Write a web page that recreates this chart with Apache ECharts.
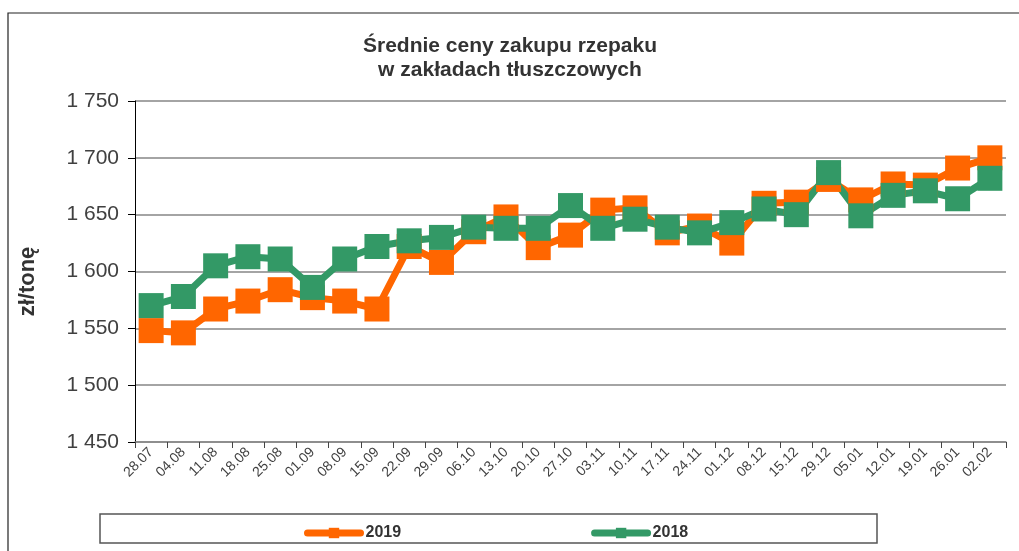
<!DOCTYPE html>
<html>
<head>
<meta charset="utf-8">
<script src="https://cdn.jsdelivr.net/npm/echarts@6/dist/echarts.min.js"></script>
<style>
  html, body {margin: 0; padding: 0; background: #fff;}
  #chart {width: 1019px; height: 551px;}
</style>
</head>
<body>
<div id="chart"></div>
<script>
  const weeks = ['28.07', '04.08', '11.08', '18.08', '25.08', '01.09', '08.09', '15.09', '22.09', '29.09',
    '06.10', '13.10', '20.10', '27.10', '03.11', '10.11', '17.11', '24.11', '01.12', '08.12',
    '15.12', '29.12', '05.01', '12.01', '19.01', '26.01', '02.02']
  const prices2019 = [1548, 1546, 1567, 1574, 1584, 1577, 1574, 1567, 1622, 1608,
    1635, 1648, 1621, 1632, 1654, 1656, 1634, 1640, 1625, 1660,
    1661, 1681, 1663, 1677, 1676, 1691, 1700]
  const prices2018 = [1570, 1578, 1605, 1613, 1611, 1586, 1611, 1622, 1627, 1630,
    1639, 1638, 1638, 1658, 1638, 1646, 1639, 1634, 1643, 1655,
    1650, 1687, 1649, 1667, 1671, 1664, 1682]

  const font = 'Liberation Sans, Arial, sans-serif'
  const chart = echarts.init(document.getElementById('chart'))

  // wartości z odstępem tysięcy: 1 750
  const fmt = v => String(v).replace(/\B(?=(\d{3})+(?!\d))/g, ' ')

  const line = (name, data, color) => ({
    name, type: 'line', data,
    symbol: 'rect', symbolSize: 25,
    lineStyle: {color, width: 7},
    itemStyle: {color},
    emphasis: {disabled: true},
    animation: false,
  })

  chart.setOption({
    animation: false,
    textStyle: {fontFamily: font},
    title: {
      text: 'Średnie ceny zakupu rzepaku\nw zakładach tłuszczowych',
      left: 505, top: 29, textAlign: 'center',
      textStyle: {fontFamily: font, fontSize: 21, fontWeight: 'bold', color: '#333', lineHeight: 24},
    },
    graphic: [
      {type: 'rect', shape: {x: 8, y: 13, width: 1100, height: 700}, style: {fill: 'none', stroke: '#222', lineWidth: 1.2}, silent: true},
      {type: 'rect', shape: {x: 100, y: 514, width: 777, height: 29}, style: {fill: '#fff', stroke: '#555', lineWidth: 1.5}, silent: true, z: -1},
    ],
    legend: {
      left: 299, top: 520, itemWidth: 53, itemHeight: 13, itemGap: 190,
      lineStyle: {width: 7, cap: 'round'},
      textStyle: {fontFamily: font, fontSize: 16, fontWeight: 'bold', color: '#333'},
      data: ['2019', '2018'],
    },
    grid: {left: 135, right: 13, top: 101, bottom: 109},
    xAxis: {
      type: 'category', data: weeks, boundaryGap: true,
      axisLine: {lineStyle: {color: '#868686', width: 1.5}},
      axisTick: {show: true, length: 6, lineStyle: {color: '#444'}},
      axisLabel: {rotate: 45, fontSize: 14, color: '#404040', margin: 8, interval: 0},
    },
    yAxis: {
      type: 'value', min: 1450, max: 1750, interval: 50,
      name: 'zł/tonę', nameLocation: 'middle', nameGap: 96,
      nameTextStyle: {fontFamily: font, fontSize: 22, fontWeight: 'bold', color: '#333', padding: [0, 20, 0, 0]},
      axisLine: {show: true, lineStyle: {color: '#000', width: 1}},
      axisTick: {show: true, length: 7, lineStyle: {color: '#000'}},
      axisLabel: {fontSize: 21, color: '#404040', margin: 16, formatter: fmt},
      splitLine: {lineStyle: {color: '#868686', width: 1.5}},
    },
    series: [
      line('2019', prices2019, '#ff6600'),
      line('2018', prices2018, '#339966'),
    ],
  })
</script>
</body>
</html>
